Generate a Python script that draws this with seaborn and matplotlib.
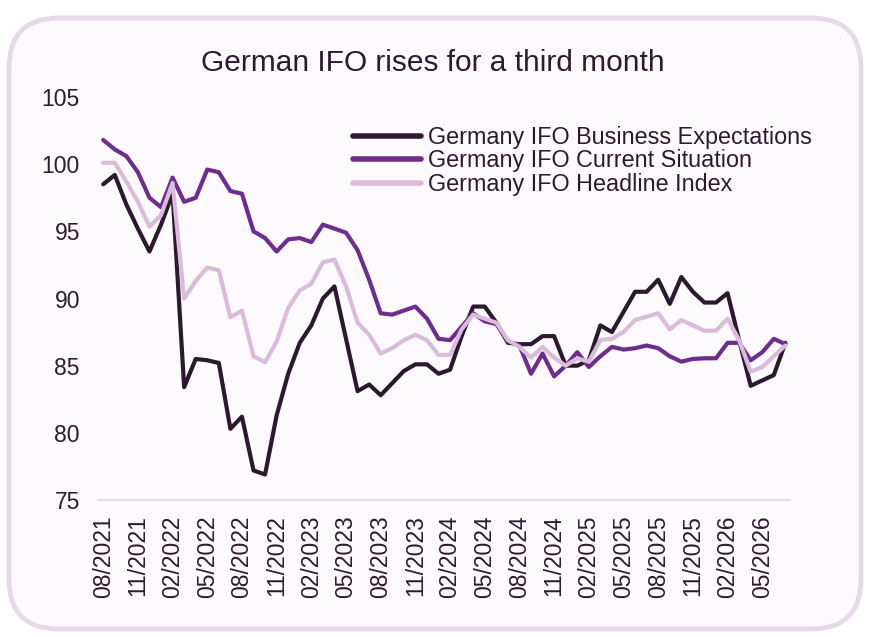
import numpy as np
import pandas as pd
import matplotlib
matplotlib.use("Agg")
import matplotlib.pyplot as plt
from matplotlib.patches import FancyBboxPatch
import seaborn as sns

# ---- data ----
tick_labels = ["08/2021", "11/2021", "02/2022", "05/2022", "08/2022", "11/2022",
               "02/2023", "05/2023", "08/2023", "11/2023", "02/2024", "05/2024",
               "08/2024", "11/2024", "02/2025", "05/2025", "08/2025", "11/2025",
               "02/2026", "05/2026"]
n_months = 60

expectations = [98.5, 99.2, 97.0, 95.2, 93.5, 95.5, 97.8, 83.4, 85.5, 85.4,
                85.2, 80.3, 81.2, 77.2, 76.9, 81.3, 84.4, 86.7, 88.0, 90.0,
                90.9, 87.0, 83.1, 83.6, 82.8, 83.7, 84.6, 85.1, 85.1, 84.4,
                84.7, 87.2, 89.4, 89.4, 88.2, 86.7, 86.6, 86.6, 87.2, 87.2,
                85.0, 85.0, 85.4, 88.0, 87.5, 89.0, 90.5, 90.5, 91.4, 89.6,
                91.6, 90.5, 89.7, 89.7, 90.4, 86.9, 83.5, 83.9, 84.3, 86.7]
current = [101.8, 101.1, 100.6, 99.4, 97.5, 96.8, 99.0, 97.2, 97.5, 99.6,
           99.4, 98.0, 97.8, 95.0, 94.5, 93.5, 94.4, 94.5, 94.2, 95.5,
           95.2, 94.9, 93.6, 91.4, 88.9, 88.8, 89.1, 89.4, 88.5, 87.0,
           86.9, 87.9, 88.9, 88.3, 88.1, 86.8, 86.5, 84.4, 85.9, 84.2,
           85.0, 86.0, 84.9, 85.7, 86.4, 86.2, 86.3, 86.5, 86.3, 85.7,
           85.3, 85.5, 85.55, 85.55, 86.7, 86.7, 85.4, 86.0, 87.0, 86.6]
headline = [100.1, 100.1, 98.7, 97.2, 95.35, 96.2, 98.6, 90.0, 91.3, 92.3,
            92.1, 88.6, 89.1, 85.7, 85.25, 86.8, 89.3, 90.6, 91.1, 92.7,
            92.9, 90.9, 88.2, 87.3, 85.9, 86.3, 86.9, 87.3, 86.9, 85.8,
            85.8, 87.7, 88.8, 88.5, 88.2, 86.9, 86.4, 85.6, 86.4, 85.6,
            85.0, 85.55, 85.3, 86.9, 87.0, 87.5, 88.4, 88.65, 88.9, 87.7,
            88.4, 88.0, 87.6, 87.6, 88.5, 86.9, 84.55, 84.9, 85.7, 86.5]

series_names = ["Germany IFO Business Expectations",
                "Germany IFO Current Situation",
                "Germany IFO Headline Index"]
colors = ["#2b1a2d", "#6f2c8f", "#dabbd9"]

idx = np.arange(n_months)
df = pd.concat([
    pd.DataFrame({"t": idx, "value": vals, "series": name})
    for name, vals in zip(series_names, [expectations, current, headline])
])

# ---- style ----
sns.set_theme(style="white")
plt.rcParams["font.family"] = ["Liberation Sans", "DejaVu Sans"]
text_color = "#2d1a2e"
bg = "#fcfafd"

fig = plt.figure(figsize=(8.71, 6.37), dpi=100)
fig.patch.set_facecolor("white")

# background frame in its own axes behind everything
bgax = fig.add_axes([0, 0, 1, 1], zorder=-10)
bgax.set_axis_off()
bgax.set_xlim(0, 871)
bgax.set_ylim(0, 637)
frame = FancyBboxPatch((9, 8), 852, 611,
                       boxstyle="round,pad=0,rounding_size=50",
                       facecolor=bg, edgecolor="#e6dae8", linewidth=3.5)
bgax.add_patch(frame)

ax = fig.add_axes([98 / 871, (637 - 500) / 637, 692 / 871, 403 / 637], zorder=1)
ax.set_facecolor("none")

sns.lineplot(data=df, x="t", y="value", hue="series", hue_order=series_names,
             palette=colors, linewidth=3, ax=ax, legend=True)

ax.set_xlim(-0.45, n_months - 0.6)
ax.set_ylim(75, 105)
ax.set_yticks(np.arange(75, 106, 5))
ax.set_xticks(np.arange(0, n_months, 3))
ax.set_xticklabels(tick_labels, rotation=90)
ax.tick_params(axis="both", length=0, labelsize=16.5, colors=text_color)
ax.tick_params(axis="x", pad=11)
ax.tick_params(axis="y", pad=13)
ax.set_xlabel("")
ax.set_ylabel("")
for s in ["top", "right", "left"]:
    ax.spines[s].set_visible(False)
ax.spines["bottom"].set_color("#e6dbe8")
ax.spines["bottom"].set_linewidth(1.5)
ax.grid(False)

leg = ax.legend(loc="upper left", bbox_to_anchor=(353 / 871, 1 - 126 / 637),
                bbox_transform=fig.transFigure, frameon=False,
                fontsize=16.8, handlelength=2.9, handletextpad=0.3,
                labelspacing=0.02, borderaxespad=0, borderpad=0)
for t in leg.get_texts():
    t.set_color(text_color)
for h in leg.get_lines():
    h.set_linewidth(4)

fig.text(433 / 871, 1 - 63 / 637, "German IFO rises for a third month",
         ha="center", va="center", fontsize=21.5, color=text_color)

fig.savefig("out.png", dpi=100)
